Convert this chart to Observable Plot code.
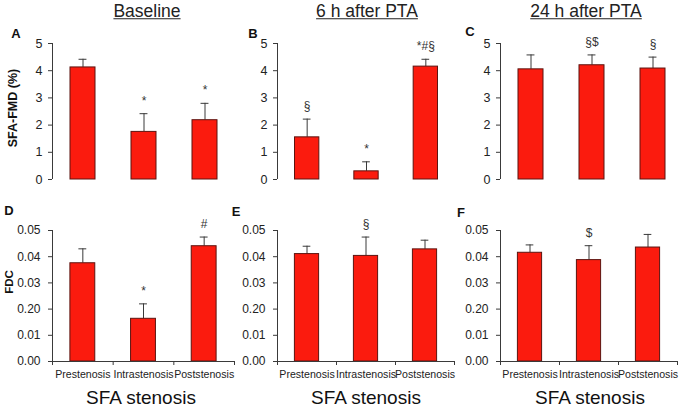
<!DOCTYPE html>
<html>
<head>
<meta charset="utf-8">
<script src="https://cdn.jsdelivr.net/npm/d3@7"></script>
<script src="https://cdn.jsdelivr.net/npm/@observablehq/plot@0.6"></script>
<style>
  html, body { margin: 0; padding: 0; background: #fff; }
  #root { position: relative; width: 683px; height: 412px; background: #fff; overflow: hidden;
          font-family: "Liberation Sans", Arial, sans-serif; color: #222; }
  .panel { position: absolute; width: 240px; }
  .panel svg { display: block; }
  .lbl { position: absolute; white-space: nowrap; transform: translate(-50%, -50%); line-height: 1; }
</style>
</head>
<body>
<div id="root"></div>
<script>
// ---------------- data ----------------
const categories = ["Prestenosis", "Intrastenosis", "Poststenosis"];
const columnTitles = ["Baseline", "6 h after PTA", "24 h after PTA"];
const panelLetters = ["A", "B", "C", "D", "E", "F"];
const xAxisTitle = "SFA stenosis";
const fmdLabel = "SFA-FMD (%)";
const fdcLabel = "FDC";

// SFA-FMD (%) mean and SD (upper error bar)
const fmdBaseline = [4.12, 1.75, 2.18];
const fmdBaselineSD = [0.30, 0.67, 0.62];
const fmdBaselineNotes = ["", "*", "*"];
const fmd6h = [1.55, 0.30, 4.15];
const fmd6hSD = [0.67, 0.35, 0.27];
const fmd6hNotes = ["§", "*", "*#§"];
const fmd24h = [4.05, 4.20, 4.08];
const fmd24hSD = [0.53, 0.38, 0.42];
const fmd24hNotes = ["", "§$", "§"];

// FDC mean and SD
const fdcBaseline = [0.0375, 0.0163, 0.0440];
const fdcBaselineSD = [0.0055, 0.0057, 0.0035];
const fdcBaselineNotes = ["", "*", "#"];
const fdc6h = [0.0410, 0.0403, 0.0428];
const fdc6hSD = [0.0030, 0.0072, 0.0035];
const fdc6hNotes = ["", "§", ""];
const fdc24h = [0.0415, 0.0387, 0.0435];
const fdc24hSD = [0.0030, 0.0055, 0.0050];
const fdc24hNotes = ["", "$", ""];

const fmdTicks = [0, 1, 2, 3, 4, 5];
const fmdTickLabels = ["0", "1", "2", "3", "4", "5"];
const fdcTicks = [0, 0.01, 0.02, 0.03, 0.04, 0.05];
const fdcTickLabels = ["0.00", "0.01", "0.20", "0.03", "0.04", "0.05"];

// ---------------- drawing ----------------
const FONT = '"Liberation Sans", Arial, sans-serif';
const BAR_FILL = "#fb1b0e";
const BAR_STROKE = "#5c1410";
const INK = "#3a3a3a";
const root = document.getElementById("root");

function makePanel(cfg) {
  const rows = cfg.values.map((v, i) => ({
    xm: i + 0.5, value: v, top: v + cfg.sd[i], note: cfg.notes[i]
  }));
  const W = 240;
  const tickMap = new Map(cfg.ticks.map((t, i) => [t, cfg.tickLabels[i]]));
  const marks = [
    Plot.ruleX([0], {stroke: INK, strokeWidth: 1}),
    Plot.axisY({ticks: cfg.ticks, tickFormat: d => tickMap.get(d), tickSize: 4,
                tickPadding: cfg.tickPadding, fontSize: cfg.tickFont, stroke: INK, color: "#222", label: null}),
    Plot.ruleX(rows, {x: "xm", y1: "value", y2: "top", stroke: INK, strokeWidth: 1}),
    Plot.ruleY(rows, {y: "top", x1: d => d.xm - 0.065, x2: d => d.xm + 0.065, stroke: INK, strokeWidth: 1}),
    Plot.rectY(rows, {x1: d => d.xm - 0.205, x2: d => d.xm + 0.205, y: "value",
                      fill: BAR_FILL, stroke: BAR_STROKE, strokeWidth: 1}),
    Plot.text(rows, {x: "xm", y: "top", text: "note", dy: -13, fontSize: 12, fill: "#333"})
  ];
  if (cfg.bottomAxis) {
    marks.push(
      Plot.ruleY([0], {stroke: INK, strokeWidth: 1}),
      Plot.axisX({ticks: d3.range(categories.length + 1), tickFormat: () => "", tickSize: 4, stroke: INK, label: null}),
      Plot.axisX({ticks: categories.map((c, i) => i + 0.5), tickFormat: d => categories[Math.floor(d)],
                  tickSize: 0, tickPadding: 9, fontSize: 10.6, color: "#222", label: null})
    );
  }
  const svg = Plot.plot({
    width: W,
    height: cfg.height,
    marginLeft: cfg.axisX,
    marginRight: W - cfg.xEnd,
    marginTop: cfg.marginTop,
    marginBottom: cfg.marginBottom,
    style: {overflow: "visible", fontFamily: FONT, background: "transparent"},
    x: {domain: [0, categories.length], axis: null},
    y: {domain: [0, cfg.yMax], axis: null},
    marks
  });
  const div = document.createElement("div");
  div.className = "panel";
  div.style.left = cfg.left + "px";
  div.style.top = cfg.top + "px";
  div.appendChild(svg);
  root.appendChild(div);
}

const topRow = {top: 20, height: 175, marginTop: 23, marginBottom: 16, yMax: 5,
             ticks: fmdTicks, tickLabels: fmdTickLabels, tickPadding: 6, tickFont: 12.5, bottomAxis: false};
const botRow = {top: 195, height: 200, marginTop: 35, marginBottom: 34, yMax: 0.05,
             ticks: fdcTicks, tickLabels: fdcTickLabels, tickPadding: 8, tickFont: 12, bottomAxis: true};

makePanel({...topRow, left: 0, axisX: 52, xEnd: 235, values: fmdBaseline, sd: fmdBaselineSD, notes: fmdBaselineNotes});
makePanel({...topRow, left: 225, axisX: 52, xEnd: 230, values: fmd6h, sd: fmd6hSD, notes: fmd6hNotes});
makePanel({...topRow, left: 450, axisX: 50, xEnd: 233, values: fmd24h, sd: fmd24hSD, notes: fmd24hNotes});
makePanel({...botRow, left: 0, axisX: 52, xEnd: 234, values: fdcBaseline, sd: fdcBaselineSD, notes: fdcBaselineNotes});
makePanel({...botRow, left: 225, axisX: 52, xEnd: 229, values: fdc6h, sd: fdc6hSD, notes: fdc6hNotes});
makePanel({...botRow, left: 450, axisX: 50, xEnd: 227, values: fdc24h, sd: fdc24hSD, notes: fdc24hNotes});

function label(text, x, y, style) {
  const d = document.createElement("div");
  d.className = "lbl";
  d.textContent = text;
  d.style.left = x + "px";
  d.style.top = y + "px";
  Object.assign(d.style, style || {});
  root.appendChild(d);
  return d;
}

// column titles
[147, 367, 586].forEach((cx, i) =>
  label(columnTitles[i], cx, 12, {fontSize: "17.5px", textDecoration: "underline", color: "#222"}));
// panel letters
[[16, 33], [253, 33], [470, 31], [9, 210], [236, 211], [461, 212]].forEach((p, i) =>
  label(panelLetters[i], p[0], p[1], {fontSize: "13px", fontWeight: "bold", color: "#111"}));
// y-axis titles
label(fmdLabel, 13, 108, {fontSize: "12.5px", fontWeight: "bold", color: "#111",
      transform: "translate(-50%, -50%) rotate(-90deg)"});
label(fdcLabel, 10, 282, {fontSize: "11.5px", fontWeight: "bold", color: "#111",
      transform: "translate(-50%, -50%) rotate(-90deg)"});
// x-axis titles
[141, 366, 590].forEach(cx => label(xAxisTitle, cx, 397, {fontSize: "19px", color: "#111"}));
</script>
</body>
</html>
